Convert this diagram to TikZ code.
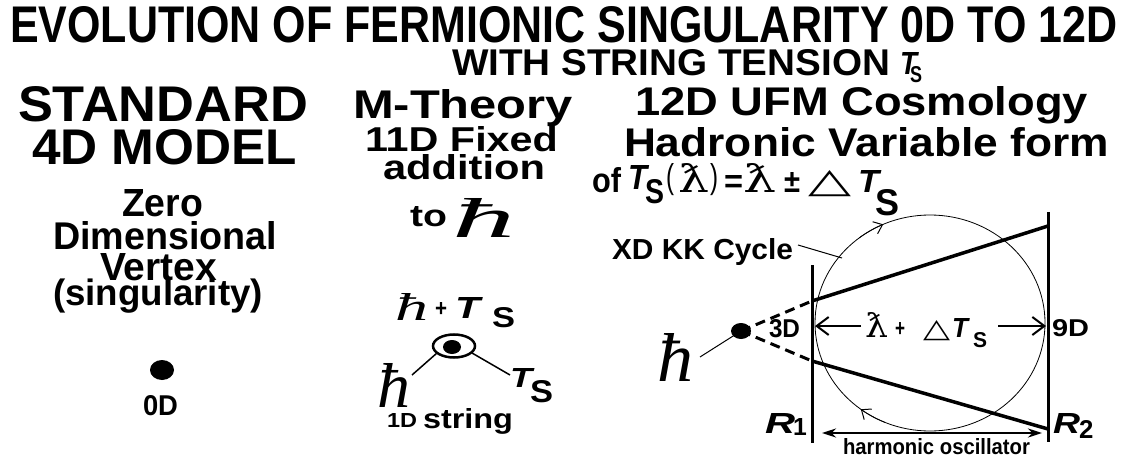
\documentclass[tikz,border=0pt]{standalone}
\usepackage{graphicx}
\usepackage{fontspec}
\setmainfont{Liberation Sans}
\newfontfamily\dvserif{DejaVu Serif}
\newfontfamily\dvsans{DejaVu Sans}
\newfontfamily\lserif{Liberation Serif}
\usetikzlibrary{arrows.meta,shapes.geometric,calc}
\newcommand{\txA}[6]{\node[txt] (#1) at (#2,#3) {\resizebox{#4pt}{#5pt}{#6}};}
\newcommand{\txW}[5]{\node[txt] (#1) at (#2,#3) {\resizebox{#4pt}{!}{#5}};}
\newcommand{\txH}[5]{\node[txt] (#1) at (#2,#3) {\resizebox{!}{#4pt}{#5}};}
\newcommand{\hb}{{\lserif\itshape ħ}}
\begin{document}
\begin{tikzpicture}[x=1pt,y=-1pt,
  txt/.style={anchor=base west,inner sep=0pt,outer sep=0pt},
  blackdot/.style={ellipse,fill=black,inner sep=0pt},
  wall/.style={line width=3pt},
  beam/.style={line width=3.5pt},
  dashbeam/.style={line width=3pt,dash pattern=on 10pt off 6pt},
  leader/.style={line width=1pt},
  stick/.style={line width=1.5pt},
  cyc/.style={line width=0.8pt},
  barb/.style={-{Straight Barb[length=12pt,width=18pt,line width=2pt]},line width=2.5pt},
  cycbarb/.style={-{Straight Barb[length=8pt,width=13pt,line width=1pt]},line width=0.8pt},
  harm/.style={{Stealth[length=14pt,width=9pt]}-{Stealth[length=14pt,width=9pt]},line width=2.5pt}]
\fill[white] (0,0) rectangle (1126,462);
\useasboundingbox (0,0) rectangle (1126,462);

% ---------- title ----------
\txA{title}{10}{43}{1107}{36}{\bfseries EVOLUTION OF FERMIONIC SINGULARITY 0D TO 12D}
\txA{sub}{452}{76}{438}{26}{\bfseries WITH STRING TENSION}
\txA{subT}{900}{75}{17}{22}{\bfseries\itshape T}
\txA{subS}{910}{83}{12}{16}{\bfseries S}

% ---------- left column ----------
\txA{std}{18}{122}{290}{35}{\bfseries STANDARD}
\txA{fourd}{32}{165}{265}{35}{\bfseries 4D MODEL}
\txA{zero}{122}{217}{81}{27}{\bfseries Zero}
\txA{dim}{53}{250}{224}{28}{\bfseries Dimensional}
\txA{vert}{100}{280}{117}{27}{\bfseries Vertex}
\txW{sing}{53}{305}{210}{\bfseries (singularity)}
\node[blackdot,minimum width=24pt,minimum height=20pt] (dot0) at (162,370) {};
\txA{zerod}{143}{415}{35}{20}{\bfseries 0D}

% ---------- middle column ----------
\txA{mth}{353}{119}{220}{29}{\bfseries M-Theory}
\txA{fixed}{365}{152}{193}{25}{\bfseries 11D Fixed}
\txA{addn}{383}{180}{162}{25}{\bfseries addition}
\txA{to}{410}{227}{37}{20}{\bfseries to}
\txA{hbA}{452}{237}{63}{39}{\hb}
\txA{hbB}{395}{320}{33}{27}{\hb}
\txA{plusB}{435}{316}{12}{14}{\bfseries +}
\txA{TB}{455}{318}{25}{21}{\bfseries\itshape T}
\txA{SB}{492}{327}{23}{20}{\bfseries S}
\node[ellipse,draw,line width=2.5pt,minimum width=42pt,minimum height=23pt,inner sep=0pt] (ring) at (454,346) {};
\node[blackdot,minimum width=18pt,minimum height=14pt] (dot1) at (452,347) {};
\txA{hbC}{377}{407}{33}{44}{\hb}
\txA{TC}{510}{387}{22}{19}{\bfseries\itshape T}
\txA{SC}{530}{402}{23}{22}{\bfseries S}
\coordinate (ringL) at (437,353);
\coordinate (ringR) at (472,353);
\coordinate (stickL) at (412,375);
\coordinate (stickR) at (510,375);
\draw[stick] (ringL) -- (stickL);
\draw[stick] (ringR) -- (stickR);
\txA{oned}{387}{427}{30}{14}{\bfseries 1D}
\txA{strg}{423}{428}{90}{20}{\bfseries string}

% ---------- right column ----------
\txA{ufm}{635}{116}{453}{29}{\bfseries 12D UFM Cosmology}
\txA{had}{624}{157}{485}{29}{\bfseries Hadronic Variable form}
\txA{of}{592}{193}{29}{25}{\bfseries of}
\txA{TD}{628}{190}{19}{24}{\bfseries\itshape T}
\txA{SD}{645}{204}{19}{24}{\bfseries S}
\txA{lp}{666}{189}{8}{25}{(}
\txA{lbA}{678}{193}{31}{29}{\dvserif ƛ}
\txA{rp}{710}{189}{8}{25}{)}
\txA{eq}{724}{193}{19}{17}{\bfseries =}
\txA{lbB}{743}{193}{33}{29}{\dvserif ƛ}
\txA{pm}{784}{193}{16}{20}{\bfseries ±}
\txA{delA}{808}{193}{43}{22}{\dvsans △}
\txA{TE}{858}{193}{21}{22}{\bfseries\itshape T}
\txA{SE}{875}{216}{24}{26}{\bfseries S}

\txA{xd}{612}{260}{181}{21}{\bfseries XD KK Cycle}
\coordinate (xdend) at (798,245);
\coordinate (cycpt) at (842,258);
\draw[leader] (xdend) -- (cycpt);

% KK cycle
\coordinate (cc) at (930,323);
\coordinate (arcAs) at ($(cc)+({115*cos(-128)},{108*sin(-128)})$);
\coordinate (arcBs) at ($(cc)+({115*cos(113)},{108*sin(113)})$);
\draw[cyc] (cc) ellipse[x radius=115,y radius=108];
\draw[cycbarb] (arcAs) arc[start angle=-128,end angle=-114,x radius=115,y radius=108];
\draw[cycbarb] (arcBs) arc[start angle=113,end angle=127,x radius=115,y radius=108];

% walls and beams
\coordinate (r1t) at (812,265);
\coordinate (r1b) at (812,443);
\coordinate (r2t) at (1048,212);
\coordinate (r2b) at (1048,442);
\coordinate (r1u) at (812,301);
\coordinate (r1l) at (812,361);
\coordinate (r2u) at (1048,226);
\coordinate (r2l) at (1048,429);
\draw[wall] (r1t) -- (r1b);
\draw[wall] (r2t) -- (r2b);
\draw[beam] (r1u) -- (r2u);
\draw[beam] (r1l) -- (r2l);
\node[blackdot,minimum width=20pt,minimum height=16pt] (dot2) at (741,331) {};
\draw[dashbeam] (dot2.center) -- (r1u);
\draw[dashbeam] (dot2.center) -- (r1l);
\txA{hbD}{657}{381}{36}{48}{\hb}
\coordinate (hbDend) at (700,357);
\draw[leader] (dot2.center) -- (hbDend);
\txA{dthree}{769}{337}{31}{18}{\bfseries 3D}
\txA{dnine}{1052}{336}{37}{17}{\bfseries 9D}

% inner arrow row
\coordinate (aLs) at (861,326);
\coordinate (aLe) at (815,326);
\coordinate (aRs) at (998,326);
\coordinate (aRe) at (1046,326);
\draw[barb] (aLs) -- (aLe);
\draw[barb] (aRs) -- (aRe);
\txA{lbC}{865}{337}{23}{25}{\dvserif ƛ}
\txA{plusC}{895}{336}{10}{14}{\bfseries +}
\txA{delC}{923}{337}{27}{17}{\dvsans △}
\txA{TF}{952}{337}{16}{19}{\bfseries\itshape T}
\txA{SF}{973}{347}{14}{15}{\bfseries S}

% R labels
\txA{Rone}{765}{433}{30}{20}{\bfseries\itshape R}
\txH{one}{793}{435}{17}{\bfseries 1}
\txA{Rtwo}{1053}{433}{27}{20}{\bfseries\itshape R}
\txH{two}{1079}{438}{18}{\bfseries 2}

% harmonic oscillator
\coordinate (hL) at (822,433);
\coordinate (hR) at (1042,433);
\draw[harm] (hL) -- (hR);
\txA{harmtxt}{843}{454}{187}{16}{\bfseries harmonic oscillator}
\end{tikzpicture}
\end{document}
